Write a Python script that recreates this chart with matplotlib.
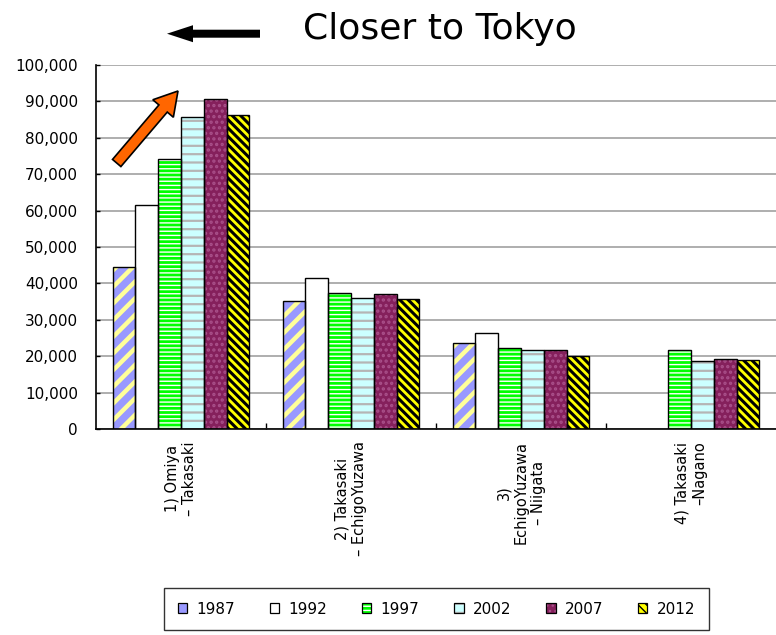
import numpy as np
import matplotlib
matplotlib.use('Agg')
import matplotlib.pyplot as plt
from matplotlib.patches import FancyArrow, Rectangle
from matplotlib.ticker import FuncFormatter

# ---------------- data ----------------
categories = ["1) Omiya\n– Takasaki",
              "2) Takasaki\n– EchigoYuzawa",
              "3)\nEchigoYuzawa\n– Niigata",
              "4) Takasaki\n–Nagano"]
years = ["1987", "1992", "1997", "2002", "2007", "2012"]
v1987 = [44600, 35200, 23600, np.nan]
v1992 = [61600, 41600, 26300, np.nan]
v1997 = [74200, 37500, 22300, 21800]
v2002 = [85700, 36100, 21800, 18700]
v2007 = [90700, 37200, 21800, 19300]
v2012 = [86300, 35700, 20100, 18900]
y_ticks = list(range(0, 100001, 10000))
title = "Closer to Tokyo"

series = [v1987, v1992, v1997, v2002, v2007, v2012]

# ---------------- styles ----------------
fills = ['#9999FF', '#FFFFFF', '#00FF00', '#CCFFFF', '#85205C', '#FFFF00']
hatch_colors = ['#FFFF99', '#FFFFFF', '#FFFFFF', '#B5B5B5', '#A9508A', '#000000']
hatches = ['//', None, '----', '--', '...', '\\\\\\\\']
hatch_lws = [3.2, 1.0, 1.0, 1.6, 1.6, 2.2]

plt.rcParams['font.family'] = ['DejaVu Sans']

fig = plt.figure(figsize=(7.76, 6.35), dpi=100)
W, H = 776, 635
ax = fig.add_axes([96 / W, 206 / H, 680 / W, 364 / H])

x = np.arange(len(categories))
w = 0.134
legend_handles = []
for i, (vals, fc, hc, ht, hl) in enumerate(zip(series, fills, hatch_colors, hatches, hatch_lws)):
    pos = x + (i - 2.5) * w
    with plt.rc_context({'hatch.linewidth': hl}):
        b1 = ax.bar(pos, vals, w, color=fc, edgecolor=hc, linewidth=0, hatch=ht, zorder=2)
        for p in b1:
            if hasattr(p, 'set_hatch_linewidth'):
                p.set_hatch_linewidth(hl)
        ax.bar(pos, vals, w, fill=False, edgecolor='black', linewidth=1.0, zorder=3)
        h1 = Rectangle((0, 0), 1, 1, facecolor=fc, edgecolor=hc, linewidth=0, hatch=ht)
        if hasattr(h1, 'set_hatch_linewidth'):
            h1.set_hatch_linewidth(min(hl, 1.5))
    h2 = Rectangle((0, 0), 1, 1, fill=False, edgecolor='black', linewidth=0.9)
    legend_handles.append((h1, h2))

# ---------------- axes ----------------
ax.set_xlim(-0.5, 3.5)
ax.set_ylim(0, 100000)
ax.set_yticks(y_ticks)
ax.yaxis.set_major_formatter(FuncFormatter(lambda v, p: f"{int(v):,}"))
ax.tick_params(axis='y', labelsize=11, length=3, direction='in', pad=13, width=1)
ax.yaxis.grid(True, color='#A8A8A8', linewidth=1.3)
ax.set_axisbelow(True)

ax.set_xticks(x)
ax.set_xticklabels(categories, rotation=90, fontsize=10.5, ha='center', va='top')
ax.tick_params(axis='x', which='major', length=0, pad=9)
ax.set_xticks([0.5, 1.5, 2.5], minor=True)
ax.tick_params(axis='x', which='minor', length=4, direction='in', width=1)
labs = ax.get_xticklabels()
labs[3].set_multialignment('right')

for s in ['top', 'right']:
    ax.spines[s].set_visible(False)
for s in ['left', 'bottom']:
    ax.spines[s].set_color('black')
    ax.spines[s].set_linewidth(1.2)

# ---------------- title + arrows ----------------
fig.text(440 / W, 1 - 39 / H, title, ha='center', va='baseline', fontsize=26)

fig.add_artist(FancyArrow(2.60, (H - 33.7) / 100, -0.93, 0, width=0.08, head_width=0.17,
                          head_length=0.26, length_includes_head=True,
                          facecolor='black', edgecolor='black', linewidth=0,
                          transform=fig.dpi_scale_trans))

fig.add_artist(FancyArrow(1.167, (H - 163) / 100, 0.613, 0.72, width=0.11, head_width=0.27,
                          head_length=0.23, length_includes_head=True,
                          facecolor='#FF6600', edgecolor='black', linewidth=1.2,
                          transform=fig.dpi_scale_trans, zorder=10))

# ---------------- legend ----------------
leg = fig.legend(legend_handles, years, ncol=6, loc='center',
                 bbox_to_anchor=(436.5 / W, 1 - 609 / H), frameon=True, fancybox=False,
                 edgecolor='black', handlelength=0.6, handleheight=0.6,
                 handletextpad=0.6, columnspacing=2.3, borderpad=0.9, fontsize=11)
leg.get_frame().set_linewidth(1.0)

fig.savefig('out.png', dpi=100)
